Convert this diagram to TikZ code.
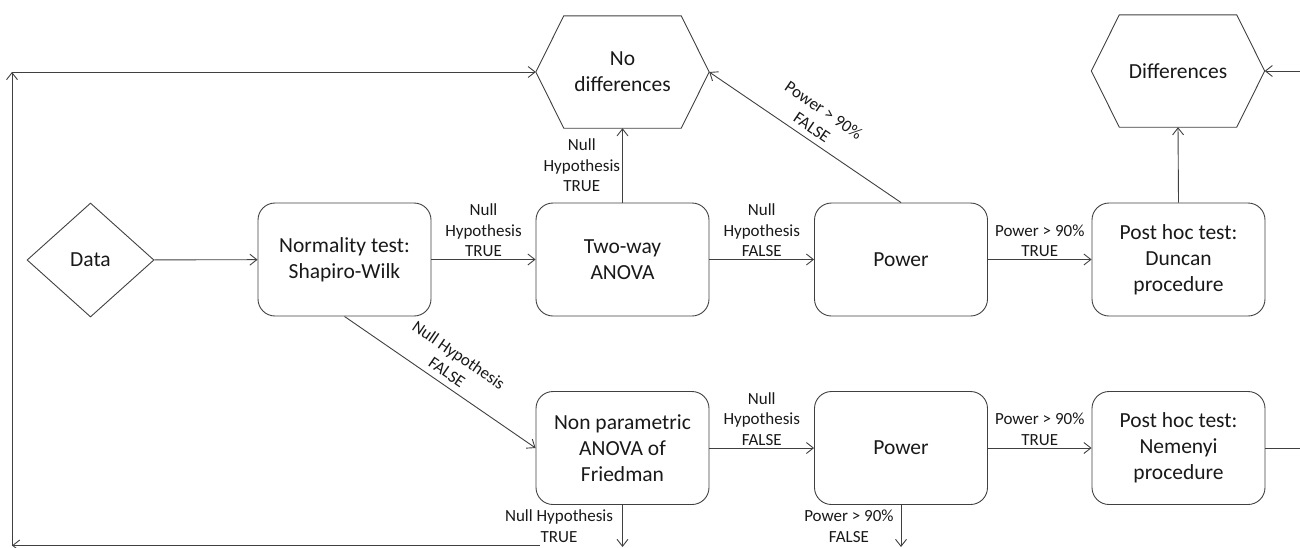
\documentclass[tikz,border=0pt]{standalone}
\usepackage{fontspec}
\setmainfont{Carlito}
\usetikzlibrary{shapes.geometric,arrows.meta}
\newcommand{\boxfont}{\fontsize{21.5}{26}\selectfont}
\newcommand{\lblfont}{\fontsize{17}{20.7}\selectfont}

\begin{document}
\begin{tikzpicture}[x=1pt,y=-1pt,
		>={Straight Barb[length=7pt,width=11pt]},
		line/.style={draw=black!75,line width=0.9pt},
		box/.style={line,rounded corners=17pt,minimum width=173pt,minimum height=113pt,align=center,font=\boxfont,text=black!90},
		hexbody/.style={minimum width=117pt,minimum height=112pt,inner sep=0pt,align=center,font=\boxfont,text=black!90},
		cond/.style={font=\lblfont,align=center,text=black!90,inner sep=2pt}]
		\useasboundingbox (0,0) rectangle (1300,547);
		
		% nodes
		\node[line,diamond,minimum width=127pt,minimum height=114pt,font=\boxfont,text=black!90] (data) at (90.5,260) {Data};
		\node[box] (norm) at (344.5,259.5) {Normality test:\\Shapiro-Wilk};
		\node[box] (anova) at (622.5,259.5) {Two-way\\ANOVA};
		\node[box] (power1) at (901,259.5) {Power};
		\node[box] (duncan) at (1178.5,259.5) {Post hoc test:\\Duncan\\procedure};
		\node[box] (friedman) at (622.5,448) {Non parametric\\ANOVA of\\Friedman};
		\node[box] (power2) at (901,448) {Power};
		\node[box] (nemenyi) at (1178.5,448) {Post hoc test:\\Nemenyi\\procedure};
		\node[hexbody] (nodiff) at (622.5,72) {No\\differences};
		\node[hexbody] (diff) at (1178,71) {Differences};
		
		% hexagon outlines
		\coordinate (nodiff-w) at ([xshift=-28pt]nodiff.west);
		\coordinate (nodiff-e) at ([xshift=28pt]nodiff.east);
		\coordinate (diff-w) at ([xshift=-28pt]diff.west);
		\coordinate (diff-e) at ([xshift=28pt]diff.east);
		\draw[line] (nodiff.north west) -- (nodiff.north east) -- (nodiff-e) -- (nodiff.south east) -- (nodiff.south west) -- (nodiff-w) -- cycle;
		\draw[line] (diff.north west) -- (diff.north east) -- (diff-e) -- (diff.south east) -- (diff.south west) -- (diff-w) -- cycle;
		
		\coordinate (bl) at (12,545.5);
		\coordinate (tl) at (12,72);
		\coordinate (br) at (540,545.5);
		\coordinate (re) at (1300,71);
		\coordinate (rn) at (1300,448);
		\coordinate (fd) at (622.5,547);
		\coordinate (pd) at (901,547);
		
		% upper row
		\draw[line,->] (data) -- (norm);
		\draw[line,->] (norm) -- node[cond,above] {Null\\Hypothesis\\TRUE} (anova);
		\draw[line,->] (anova) -- node[cond,above] {Null\\Hypothesis\\FALSE} (power1);
		\draw[line,->] (power1) -- node[cond,above] {Power > 90\%\\TRUE} (duncan);
		\draw[line,->] (anova.north) -- node[cond,left] {Null\\Hypothesis\\TRUE} (nodiff.south);
		\draw[line,->] (power1.north) -- node[cond,sloped,above,inner sep=6pt] {Power > 90\%\\FALSE} (nodiff-e);
		\draw[line,->] (duncan.north) -- (diff.south);
		\draw[line,->] (re) -- (diff-e);
		
		% lower row
		\draw[line,->] (norm.south) -- node[cond,sloped,above,inner sep=6pt] {Null Hypothesis\\FALSE} (friedman.west);
		\draw[line,->] (friedman) -- node[cond,above] {Null\\Hypothesis\\FALSE} (power2);
		\draw[line,->] (power2) -- node[cond,above] {Power > 90\%\\TRUE} (nemenyi);
		\draw[line] (nemenyi) -- (rn);
		\draw[line,->] (friedman.south) -- node[cond,left,inner sep=9pt] {Null Hypothesis\\TRUE} (fd);
		\draw[line,->] (power2.south) -- node[cond,left,inner sep=7pt] {Power > 90\%\\FALSE} (pd);
		
		% loop back
		\draw[line,->] (br) -- (bl);
		\draw[line,->] (bl) -- (tl);
		\draw[line,->] (tl) -- (nodiff-w);
	\end{tikzpicture}
\end{document}
